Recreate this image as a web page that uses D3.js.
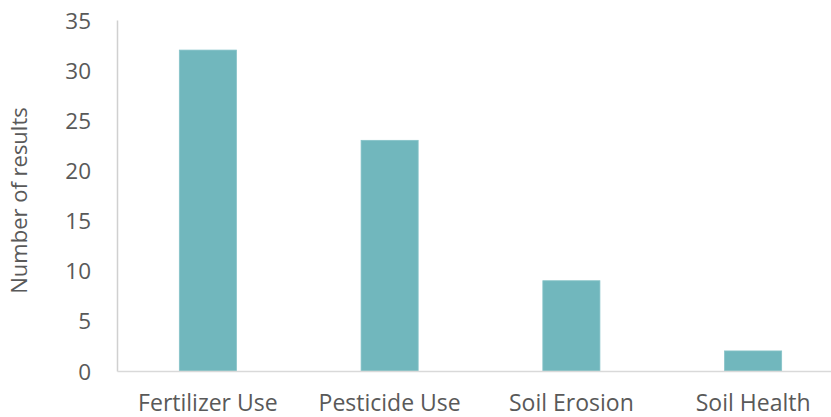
<!DOCTYPE html>
<html>
<head>
<meta charset="utf-8">
<script src="https://cdn.jsdelivr.net/npm/d3@7"></script>
<style>
  html, body { margin: 0; padding: 0; background: #fff; }
  svg { display: block; }
  text { font-family: "Open Sans", sans-serif; fill: #595959; }
</style>
</head>
<body>
<svg id="chart" width="831" height="417"></svg>
<script>
// Search results per topic
const categories = ["Fertilizer Use", "Pesticide Use", "Soil Erosion", "Soil Health"];
const counts = [32, 23, 9, 2];
const yTicks = [0, 5, 10, 15, 20, 25, 30, 35];
const yTitle = "Number of results";

const svg = d3.select("#chart");
const margin = { left: 117, top: 20, bottom: 46 };
const plotRight = 844;
const height = 417;

const x = d3.scaleBand()
  .domain(categories)
  .range([margin.left, plotRight])
  .paddingInner(0.686)
  .paddingOuter(0.343);

const y = d3.scaleLinear()
  .domain([0, 35])
  .range([height - margin.bottom, margin.top]);

// Bars
svg.append("g")
  .selectAll("rect")
  .data(categories)
  .join("rect")
  .attr("x", d => x(d))
  .attr("width", x.bandwidth())
  .attr("y", (d, i) => y(counts[i]))
  .attr("height", (d, i) => y(0) - y(counts[i]))
  .attr("fill", "#71b7bd")
  .attr("stroke", "#86c3c8")
  .attr("stroke-width", 0.8);

// Value axis
const yAxis = svg.append("g")
  .attr("transform", `translate(${margin.left},0)`)
  .call(d3.axisLeft(y).tickValues(yTicks).tickSize(0).tickPadding(26));
yAxis.select(".domain").attr("stroke", "#d0d0d0").attr("stroke-width", 1.5);
yAxis.selectAll("text")
  .style("font-size", "22.5px")
  .style("font-family", "'Open Sans', sans-serif")
  .attr("fill", "#595959")
  .attr("dy", "0.36em");

// Category axis
const xAxis = svg.append("g")
  .attr("transform", `translate(0,${y(0)})`)
  .call(d3.axisBottom(x).tickSize(0).tickPadding(24));
xAxis.select(".domain").attr("stroke", "#d9d9d9").attr("stroke-width", 1.5);
xAxis.selectAll("text")
  .style("font-size", "23px")
  .style("font-family", "'Open Sans', sans-serif")
  .attr("fill", "#595959");

// Axis title
svg.append("text")
  .attr("transform", `translate(27,${(y(0) + y(35)) / 2 + 5}) rotate(-90)`)
  .attr("text-anchor", "middle")
  .style("font-size", "22px")
  .text(yTitle);
</script>
</body>
</html>
